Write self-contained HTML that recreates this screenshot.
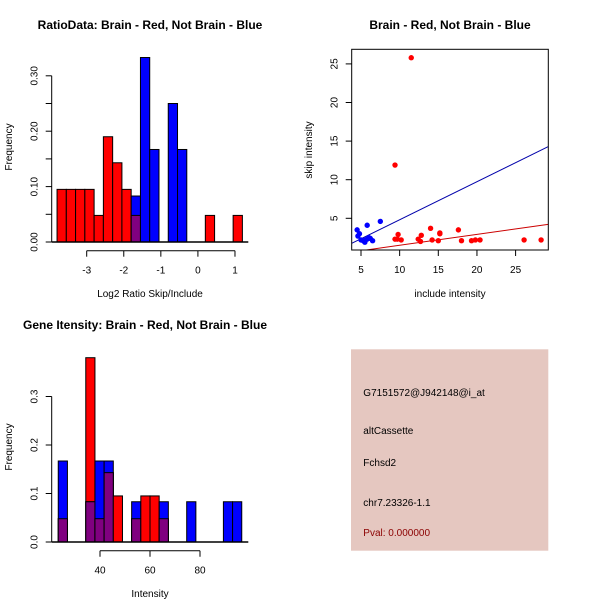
<!DOCTYPE html>
<html><head><meta charset="utf-8"><style>
body{margin:0;background:#fff;}
svg{display:block;font-family:"Liberation Sans",sans-serif;}
</style></head><body>
<svg id="s" width="600" height="600" viewBox="0 0 600 600"></svg>
<script>
// ---- Top-left histogram data (log2 ratio) ----
const ratioBreakStart = -3.8;
const ratioBinWidth = 0.25;
const ratioRed  = [0.095,0.095,0.095,0.095,0.048,0.19,0.143,0.095,0.048,0,0,0,0,0,0,0,0.048,0,0,0.048];
const ratioBlue = [0,0,0,0,0,0,0,0,0.083,0.333,0.167,0,0.25,0.167,0,0,0,0,0,0];
const ratioYTicks = [0,0.05,0.10,0.15,0.20,0.25,0.30];
const ratioYLabels = ["0.00","","0.10","","0.20","","0.30"];
const ratioXTicks = [-3,-2,-1,0,1];
// ---- Scatter data ----
const blueX = [4.5,4.6,4.8,5.0,5.3,5.5,5.8,5.8,6.0,6.2,6.5,5.6,7.5];
const blueY = [3.5,2.7,3.0,2.2,2.1,1.9,4.1,2.3,2.5,2.4,2.1,2.2,4.6];
const redX = [11.5,9.4,9.4,9.7,9.8,10.2,12.4,12.7,12.8,14.0,14.2,15.0,15.2,15.2,17.6,18.0,19.3,19.8,20.4,26.1,28.3];
const redY = [25.8,11.9,2.3,2.3,2.9,2.2,2.3,2.0,2.8,3.7,2.2,2.1,3.0,3.1,3.5,2.1,2.1,2.2,2.2,2.2,2.2];
const blueFit = [-0.11,0.4925]; // intercept, slope
const redFit = [0.088,0.1415];
const scatXTicks = [5,10,15,20,25];
const scatYTicks = [5,10,15,20,25];
// ---- Bottom-left histogram (intensity) ----
const intBreakStart = 23.3;
const intBinWidth = 3.67;
const intRed  = [0.048,0,0,0.38,0.048,0.143,0.095,0,0.048,0.095,0.095,0.048,0,0,0,0,0,0,0,0];
const intBlue = [0.167,0,0,0.083,0.167,0.167,0,0,0.083,0,0,0.083,0,0,0.083,0,0,0,0.083,0.083];
const intYTicks = [0,0.1,0.2,0.3];
const intYLabels = ["0.0","0.1","0.2","0.3"];
const intXTicks = [40,60,80];

const S=document.getElementById('s');
const NS='http://www.w3.org/2000/svg';
function el(tag,attrs,parent){const e=document.createElementNS(NS,tag);for(const k in attrs)e.setAttribute(k,attrs[k]);(parent||S).appendChild(e);return e;}
function txt(x,y,t,size,opts,parent){const e=el('text',Object.assign({x:x,y:y,'font-size':size,'text-anchor':'middle',fill:'#000'},opts||{}),parent);e.textContent=t;return e;}

// Histogram drawer
function hist(g,xs,ys,start,w,red,blue){
  for(let i=0;i<red.length;i++){
    const x0=xs(start+i*w),x1=xs(start+(i+1)*w);
    const r=red[i],b=blue[i];
    if(r>0){const e=el('rect',{x:x0,y:ys(r),width:x1-x0,height:ys(0)-ys(r),fill:'#ff0000',stroke:'#000','stroke-width':1},g);
      
      }
    if(b>0){const e=el('rect',{x:x0,y:ys(b),width:x1-x0,height:ys(0)-ys(b),fill:'#0000ff',stroke:'#000','stroke-width':1},g);
      
      }
    if(r>0&&b>0){const m=Math.min(r,b);const e=el('rect',{x:x0,y:ys(m),width:x1-x0,height:ys(0)-ys(m),fill:'#800080',stroke:'#000','stroke-width':1},g);
      
      }
  }
}
function yAxis(g,x,ys,ticks,labels){
  el('line',{x1:x,x2:x,y1:ys(ticks[0]),y2:ys(ticks[ticks.length-1]),stroke:'#000'},g);
  ticks.forEach((t,i)=>{const y=ys(t);el('line',{x1:x-6,x2:x,y1:y,y2:y,stroke:'#000'},g);
    if(labels[i]){const e=txt(x-14,y,labels[i],10,{transform:`rotate(-90 ${x-14} ${y})`,'dominant-baseline':'auto'},g);
      
      }});
}
function xAxis(g,y,xs,ticks){
  el('line',{x1:xs(ticks[0]),x2:xs(ticks[ticks.length-1]),y1:y,y2:y,stroke:'#000'},g);
  ticks.forEach(t=>{const x=xs(t);el('line',{x1:x,x2:x,y1:y,y2:y+6,stroke:'#000'},g);
    const e=txt(x,y+23,String(t),10,{},g);
    
    });
}

// ---- Panel 1 ----
{
const g=el('g',{});
const xs=v=>86.7+(v+3)*37.07, ys=v=>242-v*554;
hist(g,xs,ys,ratioBreakStart,ratioBinWidth,ratioRed,ratioBlue);
el('line',{x1:51.7,x2:248.3,y1:242,y2:242,stroke:'#000','stroke-width':1.5},g);
yAxis(g,51.7,ys,ratioYTicks,ratioYLabels);
xAxis(g,250.7,xs,ratioXTicks);
let e=txt(150,29,'RatioData: Brain - Red, Not Brain - Blue',12,{'font-weight':'bold'},g);
e=txt(150,297,'Log2 Ratio Skip/Include',10,{},g);
e=txt(12,147,'Frequency',10,{transform:'rotate(-90 12 147)'},g);
}
// ---- Panel 2 ----
{
const g=el('g',{});
const xs=v=>361+(v-5)*7.73, ys=v=>218.3-(v-5)*7.72;
const xmin=3.8,xmax=29.2;
const cp=el('clipPath',{id:'cp'},g);el('rect',{x:351.7,y:49.3,width:196.6,height:200.7},cp);
const lg=el('g',{'clip-path':'url(#cp)'},g);
let l=el('line',{x1:xs(xmin),y1:ys(blueFit[0]+blueFit[1]*xmin),x2:xs(xmax),y2:ys(blueFit[0]+blueFit[1]*xmax),stroke:'#0000aa','stroke-width':1},lg);

l=el('line',{x1:xs(xmin),y1:ys(redFit[0]+redFit[1]*xmin),x2:xs(xmax),y2:ys(redFit[0]+redFit[1]*xmax),stroke:'#cc0000','stroke-width':1},lg);

blueX.forEach((x,i)=>{const c=el('circle',{cx:xs(x),cy:ys(blueY[i]),r:2.7,fill:'#0000ff'},lg);
  
  });
redX.forEach((x,i)=>{const c=el('circle',{cx:xs(x),cy:ys(redY[i]),r:2.7,fill:'#ff0000'},lg);
  
  });
el('rect',{x:351.7,y:49.3,width:196.6,height:200.7,fill:'none',stroke:'#000'},g);
scatXTicks.forEach(t=>{const x=xs(t);el('line',{x1:x,x2:x,y1:250,y2:256,stroke:'#000'},g);
  const e=txt(x,273,String(t),10,{},g);});
scatYTicks.forEach(t=>{const y=ys(t);el('line',{x1:345.7,x2:351.7,y1:y,y2:y,stroke:'#000'},g);
  const e=txt(337.7,y,String(t),10,{transform:`rotate(-90 337.7 ${y})`},g);});
let e=txt(450,29,'Brain - Red, Not Brain - Blue',12,{'font-weight':'bold'},g);
e=txt(450,297,'include intensity',10,{},g);
e=txt(312,150,'skip intensity',10,{transform:'rotate(-90 312 150)'},g);
}
// ---- Panel 3 ----
{
const g=el('g',{});
const xs=v=>100+(v-40)*2.5, ys=v=>542-v*485;
hist(g,xs,ys,intBreakStart,intBinWidth,intRed,intBlue);
el('line',{x1:51.7,x2:248.3,y1:542,y2:542,stroke:'#000','stroke-width':1.5},g);
yAxis(g,51.7,ys,intYTicks,intYLabels);
xAxis(g,550.7,xs,intXTicks);
let e=txt(145,329,'Gene Itensity: Brain - Red, Not Brain - Blue',12,{'font-weight':'bold'},g);
e=txt(150,597,'Intensity',10,{},g);
e=txt(12,447,'Frequency',10,{transform:'rotate(-90 12 447)'},g);
}
// ---- Panel 4 info box ----
{
const g=el('g',{});
el('rect',{x:351,y:349.3,width:197.3,height:201.4,fill:'#e5c7c0'},g);
const lines=[['G7151572@J942148@i_at',396,'#000','probe-id'],['altCassette',434,'#000','event-type'],['Fchsd2',466,'#000','gene-name'],['chr7.23326-1.1',506,'#000','location'],['Pval: 0.000000',536,'#8b0000','p-value']];
lines.forEach(l=>{const e=txt(363.3,l[1],l[0],10,{'text-anchor':'start',fill:l[2]},g);
  
  });
}
</script>
</body></html>
